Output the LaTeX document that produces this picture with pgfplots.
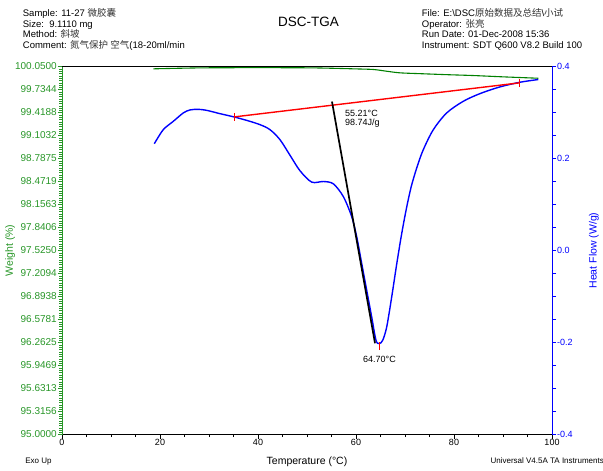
\documentclass[border=0pt]{standalone}
\usepackage{pgfplots}
\pgfplotsset{compat=1.18}
\usepackage{fontspec}
\setmainfont{Liberation Sans}
\newfontfamily\cjk{Noto Sans CJK SC}
\definecolor{wgreen}{RGB}{0,128,0}
\definecolor{lgreen}{RGB}{40,150,40}
\newcommand{\fs}[1]{\fontsize{#1bp}{#1bp}\selectfont}

\begin{document}
\begin{tikzpicture}
\path[use as bounding box] (0,0) rectangle (603bp,-471bp);

% header
\begin{scope}[every node/.style={anchor=base west, inner sep=0pt, font=\fs{9.5}}]
\node at (22.7bp,-16.8bp) {Sample: 11-27 {\cjk\color{black!80}微胶囊}};
\node at (22.7bp,-27.3bp) {Size:\ \ 9.1110 mg};
\node at (22.7bp,-37.6bp) {Method: {\cjk\color{black!80}斜坡}};
\node at (22.7bp,-48.0bp) {Comment: {\cjk\color{black!80}氮气保护 空气}(18-20ml/min};
\node at (421.7bp,-16.8bp) {File: E:\textbackslash DSC{\cjk\color{black!80}原始数据及总结}\textbackslash{\cjk\color{black!80}小试}};
\node at (421.7bp,-27.3bp) {Operator: {\cjk\color{black!80}张亮}};
\node at (421.7bp,-37.6bp) {Run Date: 01-Dec-2008 15:36};
\node at (421.7bp,-48.0bp) {Instrument: SDT Q600 V8.2 Build 100};
\end{scope}
\node[font=\fs{13.5}, inner sep=0pt] at (308.5bp,-22bp) {DSC-TGA};
\node[font=\fs{8}, anchor=base, inner sep=0pt] at (38.5bp,-463bp) {Exo Up};
\node[font=\fs{8}, anchor=base east, inner sep=0pt] at (604bp,-463bp) {Universal V4.5A TA Instruments};

% weight axis
\begin{axis}[
  at={(62bp,-434.5bp)}, anchor=south west,
  scale only axis, width=490bp, height=368bp,
  xmin=0, xmax=100, ymin=95, ymax=100.05,
  axis x line*=bottom, axis y line*=left,
  x axis line style={black, line width=0.8pt},
  y axis line style={lgreen, line width=0.8pt},
  xtick={0,20,...,100}, minor x tick num=3,
  ytick={95,95.315625,95.63125,95.946875,96.2625,96.578125,96.89375,97.209375,97.525,97.840625,98.15625,98.471875,98.7875,99.103125,99.41875,99.734375,100.05},
  yticklabels={95.0000,95.3156,95.6313,95.9469,96.2625,96.5781,96.8938,97.2094,97.5250,97.8406,98.1563,98.4719,98.7875,99.1032,99.4188,99.7344,100.0500},
  minor y tick num=9,
  tick align=outside,
  major tick length=4bp, minor tick length=2.5bp,
  x tick style={black},
  y tick style={lgreen},
  xticklabel style={font=\fs{9}, inner sep=1bp},
  yticklabel style={font=\fs{10}, lgreen, inner sep=1bp},
  /pgf/number format/assume math mode=true,
  xlabel={Temperature (°C)},
  xlabel style={font=\fs{10.5}, at={(axis description cs:0.5,-0.075)}, anchor=center},
  ylabel={Weight (\%)},
  ylabel style={font=\fs{10.5}, lgreen, at={(axis description cs:-0.106,0.5)}, anchor=center},
]
\addplot[wgreen, line width=1.1pt, smooth] coordinates {
  (18.63,100.018) (24.0,100.026) (29.53,100.032) (40.0,100.034) (49.93,100.032)
  (55.0,100.026) (59.45,100.018) (63.53,100.009) (66.27,99.985) (68.98,99.963)
  (73.73,99.950) (78.5,99.938) (83.94,99.926) (90.0,99.908) (97.20,99.889)
};
\end{axis}

% heat flow axis
\begin{axis}[
  at={(62bp,-434.5bp)}, anchor=south west,
  scale only axis, width=490bp, height=368bp,
  xmin=0, xmax=100, ymin=-0.4, ymax=0.4,
  axis x line*=top, axis y line*=right,
  x axis line style={black, line width=0.8pt},
  y axis line style={blue, line width=0.8pt},
  xtick=\empty,
  ytick={-0.4,-0.2,0,0.2,0.4},
  yticklabels={-0.4,-0.2,0.0,0.2,0.4},
  minor y tick num=3,
  tick align=outside,
  major tick length=4bp, minor tick length=4bp,
  y tick style={blue},
  yticklabel style={font=\fs{9}, blue, inner sep=1bp},
  /pgf/number format/assume math mode=true,
  ylabel={Heat Flow (W/g)},
  ylabel style={font=\fs{10.5}, blue, at={(axis description cs:1.0857,0.5)}, anchor=center, rotate=0},
]
\addplot[blue, line width=1.4pt, smooth] coordinates {
  (18.84,0.2322) (20.67,0.2627) (22.71,0.2808) (24.76,0.2991) (26.12,0.3056)
  (27.82,0.3069) (29.53,0.3047) (32.24,0.2975) (35.10,0.2904) (37.69,0.2829)
  (40.41,0.2736) (42.45,0.2627) (44.49,0.2409) (46.53,0.2071) (48.57,0.1734)
  (50.96,0.1487) (53.33,0.1500) (55.37,0.1450) (57.41,0.1173) (59.12,0.0737)
  (60.14,0.0301) (61.16,-0.0279) (62.18,-0.0861) (63.20,-0.1443) (64.08,-0.1951)
  (64.76,-0.2023) (65.45,-0.1951) (66.27,-0.1661) (67.30,-0.1000) (68.30,-0.0300)
  (69.30,0.0350) (70.30,0.0920) (71.30,0.1400) (72.50,0.1830) (73.73,0.2191)
  (75.78,0.2627) (78.51,0.2991) (81.90,0.3244) (85.31,0.3411) (89.39,0.3557)
  (93.47,0.3658) (97.20,0.3717)
};
\addplot[red, line width=1.4pt, mark=|, mark size=4bp, mark options={line width=0.8pt}] coordinates {
  (35.10,0.2904) (93.41,0.3645)
};
\addplot[black, line width=1.7pt] coordinates {
  (55.10,0.3237) (63.88,-0.2017)
};
\addplot[red, only marks, mark=|, mark size=4bp, mark options={line width=0.8pt}] coordinates {
  (64.76,-0.208)
};
\node[font=\fs{9}, anchor=west, inner sep=0pt] at (axis cs:57.76,0.298) {55.21°C};
\node[font=\fs{9}, anchor=west, inner sep=0pt] at (axis cs:57.76,0.276) {98.74J/g};
\node[font=\fs{9}, inner sep=0pt] at (axis cs:64.79,-0.236) {64.70°C};
\end{axis}
\end{tikzpicture}
\end{document}
